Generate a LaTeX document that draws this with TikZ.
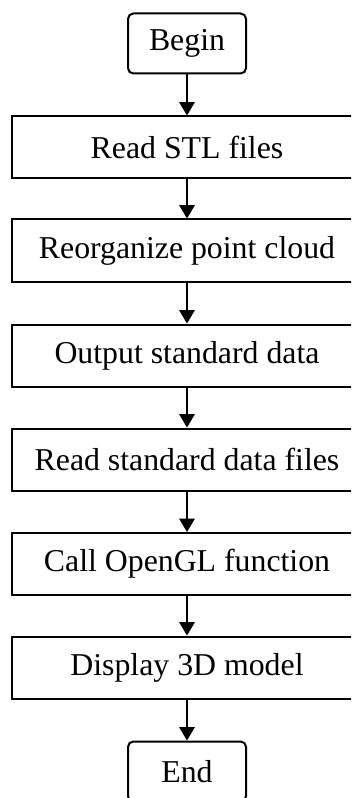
\documentclass[tikz,border=0pt]{standalone}
\usepackage{fontspec}
\setmainfont{Liberation Serif}
\usetikzlibrary{arrows.meta}
\begin{document}
\begin{tikzpicture}[x=0.75pt,y=-0.75pt,
  every node/.style={font=\fontsize{23.85}{28}\selectfont},
  procbox/.style={draw, line width=1.5pt, minimum width=262.5pt, minimum height=46.5pt, inner sep=0pt},
  termbox/.style={draw, line width=1.5pt, rounded corners=4pt, minimum width=88.5pt, minimum height=45pt, inner sep=0pt},
  arr/.style={-{Triangle[width=11.5pt,length=10pt]}, line width=1.5pt}]
\useasboundingbox (0,0) rectangle (351,798);
\clip (0,0) rectangle (351,798);
\node[termbox] (begin) at (187,43.5) {Begin};
\node[procbox] (stl) at (187,147.5) {Read STL files};
\node[procbox] (reorg) at (187,250.5) {Reorganize point cloud};
\node[procbox] (out) at (187,355.5) {Output standard data};
\node[procbox] (readstd) at (187,459.5) {Read standard data files};
\node[procbox] (ogl) at (187,564) {Call OpenGL function};
\node[procbox] (disp) at (187,667.5) {Display 3D model};
\node[termbox] (end) at (187,771.5) {End};
\draw[arr] (begin.south) -- (stl.north);
\draw[arr] (stl) -- (reorg);
\draw[arr] (reorg) -- (out);
\draw[arr] (out) -- (readstd);
\draw[arr] (readstd) -- (ogl);
\draw[arr] (ogl) -- (disp);
\draw[arr] (disp.south) -- (end.north);
\end{tikzpicture}
\end{document}
